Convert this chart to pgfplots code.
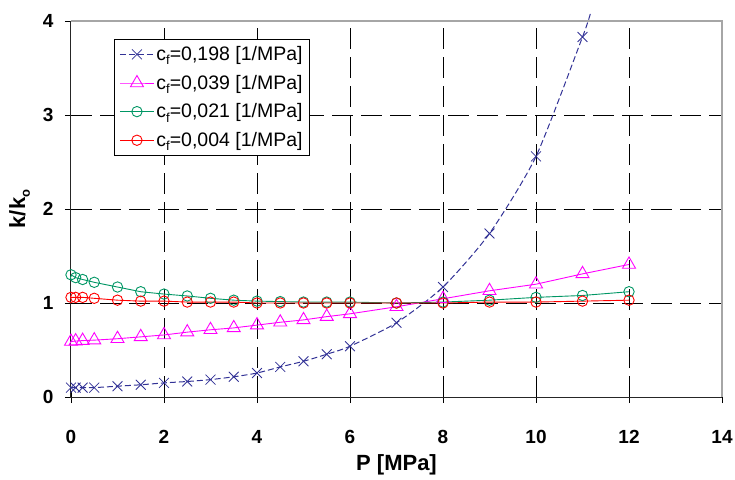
\documentclass[border=0pt]{standalone}
\usepackage{fontspec}
\setmainfont{Liberation Sans}
\usepackage{pgfplots}
\pgfplotsset{compat=1.18}
\definecolor{cblue}{RGB}{50,50,150}
\definecolor{cmag}{RGB}{255,0,255}
\definecolor{cgreen}{RGB}{0,150,100}
\definecolor{cred}{RGB}{255,0,0}
\newcommand\sub[1]{\raisebox{-0.22em}{\fontsize{13}{13}\selectfont #1}}
\begin{document}
\begin{tikzpicture}
\begin{axis}[
  name=ax, at={(0,0)}, anchor=south west,
  scale only axis, width=651pt, height=376pt,
  xmin=0, xmax=14, ymin=0, ymax=4,
  xtick={0,2,...,14}, ytick={0,1,2,3,4},
  xtick pos=bottom, ytick pos=left,
  tick align=center, major tick length=12pt,
  tick style={black, line width=0.9pt},
  axis line style={draw=none},
  /pgf/number format/assume math mode=true,
  tick label style={font=\fontsize{19}{21}\selectfont\bfseries},
  xticklabel style={anchor=north, yshift=-24pt},
  yticklabel style={anchor=east, xshift=-8pt},
  xlabel={P [MPa]},
  ylabel={k/k\sub{o}},
  xlabel style={font=\fontsize{22}{24}\selectfont\bfseries, at={(axis description cs:0.5,0)}, anchor=north, yshift=-54pt},
  ylabel style={font=\fontsize{22}{24}\selectfont\bfseries, at={(axis description cs:-0.079,0.5)}, anchor=center, rotate=0},
  clip=false,
  legend style={at={(axis description cs:0.066,0.952)}, anchor=north west,
    draw=black, line width=1pt, fill=white, inner xsep=5pt, inner ysep=5pt,
    font=\fontsize{19.5}{22}\selectfont, row sep=9pt,
    nodes={inner sep=2pt}},
  legend cell align=left,
  legend image code/.code={\draw[mark indices={2}] plot coordinates {(0pt,0pt)(17pt,0pt)(34pt,0pt)};},
]
% grid
\pgfplotsinvokeforeach{2,4,6,8,10,12}{
  \draw[black, line width=1pt, dash pattern=on 21pt off 8pt] (axis cs:#1,0) -- (axis cs:#1,4);
}
\pgfplotsinvokeforeach{1,2,3}{
  \draw[black, line width=1pt, dash pattern=on 21pt off 8pt] (axis cs:0,#1) -- (axis cs:14,#1);
}
\draw[gray!70, line width=1.2pt] (rel axis cs:0,1) -- (rel axis cs:1,1) -- (rel axis cs:1,0);
\draw[black!85, line width=1pt] (rel axis cs:0,1) -- (rel axis cs:0,0) -- (rel axis cs:1,0);

\addplot[cblue, line width=1pt, dash pattern=on 6pt off 3pt, smooth, tension=0.4,
  mark=x, mark size=7pt, mark options={solid, line width=0.8pt},
  mark indices={1,2,3,4,5,6,7,8,9,10,11,12,13,14,15,16,17,18,19,20}]
coordinates {
(0,0.10) (0.1,0.10) (0.25,0.10) (0.5,0.10) (1,0.115) (1.5,0.13) (2,0.15)
(2.5,0.165) (3,0.185) (3.5,0.215) (4,0.255) (4.5,0.32) (5,0.38) (5.5,0.455)
(6,0.54) (7,0.79) (8,1.17) (9,1.74) (10,2.56) (11,3.83) (11.17,4.08)
};
\addlegendentry{c\sub{f}=0,198 [1/MPa]}

\addplot[cmag, line width=0.9pt, mark=triangle, mark size=7.5pt, mark options={solid, fill=none, line width=0.9pt}]
coordinates {
(0,0.59) (0.1,0.595) (0.25,0.60) (0.5,0.605) (1,0.62) (1.5,0.64) (2,0.66)
(2.5,0.69) (3,0.715) (3.5,0.735) (4,0.765) (4.5,0.795) (5,0.82) (5.5,0.855)
(6,0.885) (7,0.96) (8,1.045) (9,1.13) (10,1.20) (11,1.31) (12,1.41)
};
\addlegendentry{c\sub{f}=0,039 [1/MPa]}

\addplot[cgreen, line width=0.9pt, mark=o, mark size=5.2pt, mark options={solid, fill=none, line width=0.9pt}]
coordinates {
(0,1.30) (0.1,1.27) (0.25,1.25) (0.5,1.22) (1,1.17) (1.5,1.12) (2,1.095)
(2.5,1.075) (3,1.05) (3.5,1.03) (4,1.02) (4.5,1.015) (5,1.01) (5.5,1.01)
(6,1.01) (7,1.0) (8,1.01) (9,1.03) (10,1.06) (11,1.08) (12,1.12)
};
\addlegendentry{c\sub{f}=0,021 [1/MPa]}

\addplot[cred, line width=0.9pt, mark=o, mark size=5.2pt, mark options={solid, fill=none, line width=0.9pt}]
coordinates {
(0,1.06) (0.1,1.06) (0.25,1.06) (0.5,1.05) (1,1.03) (1.5,1.02) (2,1.02)
(2.5,1.01) (3,1.01) (3.5,1.01) (4,1.0) (4.5,1.0) (5,1.0) (5.5,1.0)
(6,1.0) (7,1.0) (8,1.0) (9,1.01) (10,1.01) (11,1.02) (12,1.03)
};
\addlegendentry{c\sub{f}=0,004 [1/MPa]}

\coordinate (bl) at (rel axis cs:0,0);
\coordinate (tr) at (rel axis cs:1,1);
\end{axis}
\pgfresetboundingbox
\path[use as bounding box] ([shift={(-71pt,-82pt)}]bl) rectangle ([shift={(13pt,21pt)}]tr);
\end{tikzpicture}
\end{document}
